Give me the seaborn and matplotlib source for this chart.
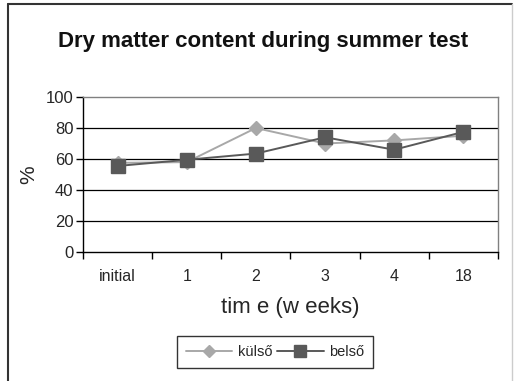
import matplotlib
matplotlib.use("Agg")
import matplotlib.pyplot as plt
from matplotlib.lines import Line2D
import seaborn as sns
import pandas as pd

categories = ["initial", "1", "2", "3", "4", "18"]
kulso = [57.5, 58, 80, 70, 72, 75]
belso = [55.5, 59.5, 63.5, 74, 66, 77.5]
series_names = ["külső", "belső"]
yticks = [0, 20, 40, 60, 80, 100]

df = pd.DataFrame({
    "time": categories * 2,
    "value": kulso + belso,
    "series": [series_names[0]] * len(categories) + [series_names[1]] * len(categories),
})

sns.set_theme(style="white")
plt.rcParams["font.family"] = ["Liberation Sans", "DejaVu Sans"]

fig = plt.figure(figsize=(5.14, 3.81), dpi=100)
ax = fig.add_axes([83 / 514, 1 - 252 / 381, 415 / 514, 155 / 381])

colors = {"külső": "#a8a8a8", "belső": "#595959"}
markers = {"külső": "D", "belső": "s"}
sns.lineplot(data=df, x="time", y="value", hue="series", style="series",
             palette=colors, markers=markers, dashes=False, ax=ax,
             markersize=0, linewidth=1.4, legend=False, sort=False)
# markers drawn separately so each keeps its own size
for name, size in [("külső", 7), ("belső", 10)]:
    sub = df[df.series == name]
    ax.plot(range(len(categories)), sub["value"].values, linestyle="none",
            marker=markers[name], markersize=size, color=colors[name],
            markeredgecolor=colors[name], zorder=3)

ax.set_xlim(-0.5, len(categories) - 0.5)
ax.set_ylim(0, 100)
ax.set_yticks(yticks)
ax.set_yticklabels([str(v) for v in yticks], fontsize=12)
ax.set_xticks(range(len(categories)))
ax.set_xticklabels(categories, fontsize=11.5)
ax.set_xticks([i - 0.5 for i in range(len(categories) + 1)], minor=True)
ax.tick_params(axis="x", which="major", length=0, pad=12)
ax.tick_params(axis="x", which="minor", length=5, width=1, color="black", direction="out", bottom=True)
ax.tick_params(axis="y", length=5, width=1, color="black", direction="out", left=True, pad=2)

for v in yticks[1:-1]:
    ax.axhline(v, color="black", linewidth=0.9, zorder=0)

for side in ["left", "bottom"]:
    ax.spines[side].set_color("black")
    ax.spines[side].set_linewidth(1)
for side in ["top", "right"]:
    ax.spines[side].set_color("#808080")
    ax.spines[side].set_linewidth(1)

ax.set_xlabel("")
ax.set_ylabel("%", fontsize=15, labelpad=5)
fig.text(290 / 514, 1 - 308 / 381, "tim e (w eeks)", ha="center", va="center", fontsize=16)

fig.text(263 / 514, 1 - 42 / 381, "Dry matter content during summer test",
         ha="center", va="center", fontsize=16, fontweight="bold", color="#111111")

handles = [Line2D([], [], color=colors[n], marker=markers[n],
                  markersize=6 if n == "külső" else 8, linewidth=1.4) for n in series_names]
leg = fig.legend(handles, series_names, loc="center", bbox_to_anchor=(275 / 514, 1 - 352 / 381),
                 ncol=2, frameon=True, fancybox=False, fontsize=10.5, handlelength=3.2,
                 columnspacing=0.3, handletextpad=0.4, borderpad=0.6, borderaxespad=0)
leg.get_frame().set_edgecolor("black")
leg.get_frame().set_linewidth(1)

# outer chart frame (left, top, right)
fig.add_artist(Line2D([8 / 514, 8 / 514], [0, 1 - 4 / 381], transform=fig.transFigure, color="#333333", linewidth=1.5))
fig.add_artist(Line2D([8 / 514, 512 / 514], [1 - 4 / 381, 1 - 4 / 381], transform=fig.transFigure, color="#333333", linewidth=1.5))
fig.add_artist(Line2D([512 / 514, 512 / 514], [0, 1 - 4 / 381], transform=fig.transFigure, color="#cccccc", linewidth=1))

fig.savefig("out.png", dpi=100)
